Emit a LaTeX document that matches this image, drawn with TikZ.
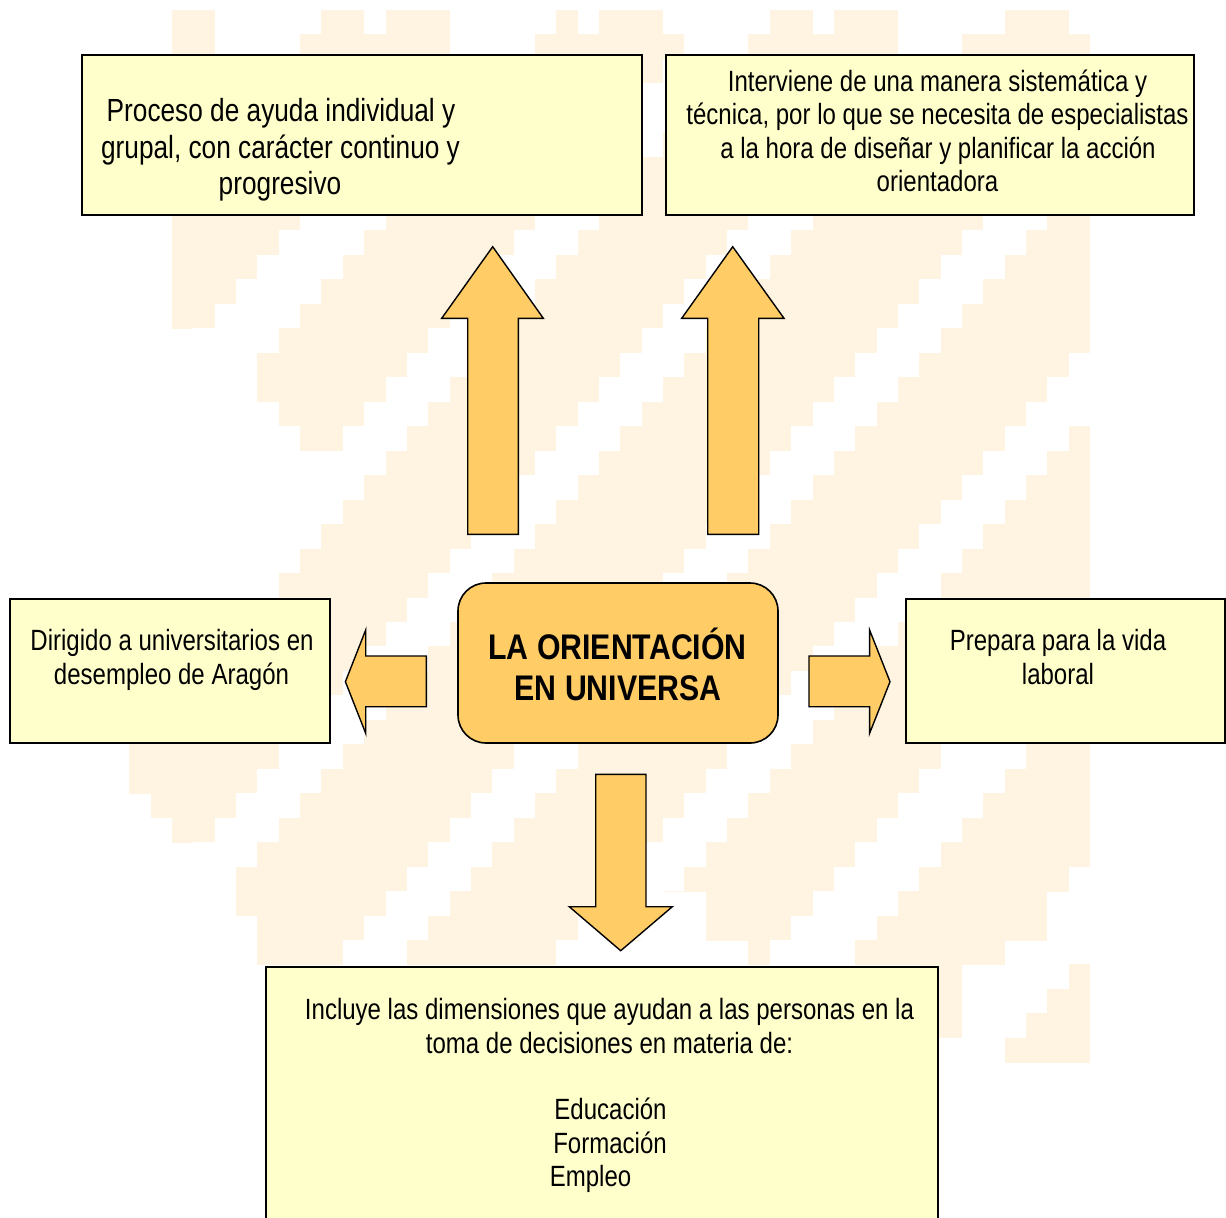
\documentclass[tikz,border=0pt]{standalone}
\usepackage{fontspec}
\setmainfont{Liberation Sans}[FakeStretch=0.82]
\newfontfamily\titlefont{Liberation Sans}[FakeStretch=0.85]
\definecolor{wm}{HTML}{FFF4E1}
\definecolor{boxfill}{HTML}{FFFFCC}
\definecolor{arrowfill}{HTML}{FFCC66}
\begin{document}
\begin{tikzpicture}[x=1bp,y=-1bp,
  box/.style={draw=black, line width=1.6bp, fill=boxfill, inner sep=0pt, outer sep=0pt},
  hub/.style={box, fill=arrowfill, rounded corners=28bp},
  blockarrow/.style={draw=black, line width=1.4bp, fill=arrowfill, line join=miter},
  txt/.style={anchor=base, inner sep=0pt, font=\fontsize{29.3bp}{33.5bp}\selectfont},
  bigtxt/.style={anchor=base, inner sep=0pt, font=\fontsize{32bp}{36.5bp}\selectfont},
  titletxt/.style={anchor=base, inner sep=0pt, font=\titlefont\bfseries\fontsize{35.6bp}{41bp}\selectfont}]
\useasboundingbox (0,0) rectangle (1226,1218);
% ---------- watermark ----------
\begin{scope}
\clip (0,0) rectangle (1226,1218);
\foreach \r/\sp in {0/{0/2,7/9,10/13,18/19,20/23,28/30,31/34,39/42},
  1/{0/43},2/{0/43},3/{0/43},4/{0/43},5/{0/43},6/{0/43},7/{0/43},8/{0/43},
  9/{0/43},10/{0/43},11/{0/43},12/{0/43},
  13/{5/43},14/{4/43},15/{4/43},16/{5/43},17/{6/43},
  18/{10/43},19/{9/43},20/{8/43},21/{7/43},22/{6/43},23/{5/43},
  24/{4/43},25/{3/43},26/{2/43},27/{1/43},28/{0/43},29/{-1/43},
  30/{-2/43},31/{-2/43},32/{-1/43},33/{0/43},
  34/{4/43},35/{3/42},36/{3/23,25/41},37/{4/22,25/41},38/{4/21,27/39},
  39/{35/37,42/43},40/{35/37,41/43},41/{35/37,40/43},42/{39/43}}{
  \foreach \a/\b in \sp {
    \fill[wm] ({172+21.35*\a},{10+24.48*\r-0.3}) rectangle ({172+21.35*\b},{10+24.48*(\r+1)+0.3});
  }
}
\foreach \r in {1,...,42}{
  \foreach \da/\db in {3/7,14/18,25/28,35/38,46/49,56/59,66/70}{
    \fill[white] ({172+21.35*(\da-\r)},{10+24.48*\r}) rectangle ({172+21.35*(\db-\r)},{10+24.48*(\r+1)});
  }
}
\end{scope}
% ---------- boxes ----------
\node[box, minimum width=560bp, minimum height=160bp] (tl) at (362,135) {};
\node[box, minimum width=528bp, minimum height=160bp] (tr) at (930,135) {};
\node[box, minimum width=320bp, minimum height=144bp] (lb) at (170,671) {};
\node[box, minimum width=319bp, minimum height=144bp] (rb) at (1065.5,671) {};
\node[box, minimum width=672bp, minimum height=273bp] (bb) at (602,1103.5) {};
\node[hub, minimum width=320bp, minimum height=160bp] (hub) at (618,663) {};
% ---------- block arrows ----------
\draw[blockarrow] (467.7,534.3) -- (467.7,318.3) -- (441.7,318.3) -- (492.7,246.7) -- (543.3,318.3) -- (518.3,318.3) -- (518.3,534.3) -- cycle;
\draw[blockarrow] (707.7,534.3) -- (707.7,318.3) -- (681.7,318.3) -- (732.7,246.7) -- (784,318.3) -- (758.7,318.3) -- (758.7,534.3) -- cycle;
\draw[blockarrow] (426.4,656) -- (365.7,656) -- (365.7,630) -- (345.4,681.7) -- (365.7,733.3) -- (365.7,706.7) -- (426.4,706.7) -- cycle;
\draw[blockarrow] (809,656) -- (869.6,656) -- (869.6,630) -- (890,681.7) -- (869.6,733.3) -- (869.6,706.7) -- (809,706.7) -- cycle;
\draw[blockarrow] (595.7,774.3) -- (646,774.3) -- (646,906.7) -- (672.3,906.7) -- (620.7,950.7) -- (569.3,906.7) -- (595.7,906.7) -- cycle;
% ---------- texts ----------
\node[titletxt] (h1) at (617.5,659) {LA ORIENTACIÓN};
\node[titletxt] (h2) at (618,700) {EN UNIVERSA};
\node[bigtxt] (tl1) at (281,121) {Proceso de ayuda individual y};
\node[bigtxt] (tl2) at (280.5,158) {grupal, con carácter continuo y};
\node[bigtxt] (tl3) at (280,194) {progresivo};
\node[txt] (tr1) at (937.5,91) {Interviene de una manera sistemática y};
\node[txt] (tr2) at (937.5,124.5) {técnica, por lo que se necesita de especialistas};
\node[txt] (tr3) at (938,158) {a la hora de diseñar y planificar la acción};
\node[txt] (tr4) at (937.5,191.5) {orientadora};
\node[txt] (lb1) at (172,650) {Dirigido a universitarios en};
\node[txt] (lb2) at (171.5,684) {desempleo de Aragón};
\node[txt] (rb1) at (1058,650) {Prepara para la vida};
\node[txt] (rb2) at (1058,684) {laboral};
\node[txt] (bb1) at (609.5,1019) {Incluye las dimensiones que ayudan a las personas en la};
\node[txt] (bb2) at (609.5,1053) {toma de decisiones en materia de:};
\node[txt] (bb3) at (610.5,1119) {Educación};
\node[txt] (bb4) at (610,1153) {Formación};
\node[txt] (bb5) at (590.5,1186) {Empleo};
\end{tikzpicture}
\end{document}
